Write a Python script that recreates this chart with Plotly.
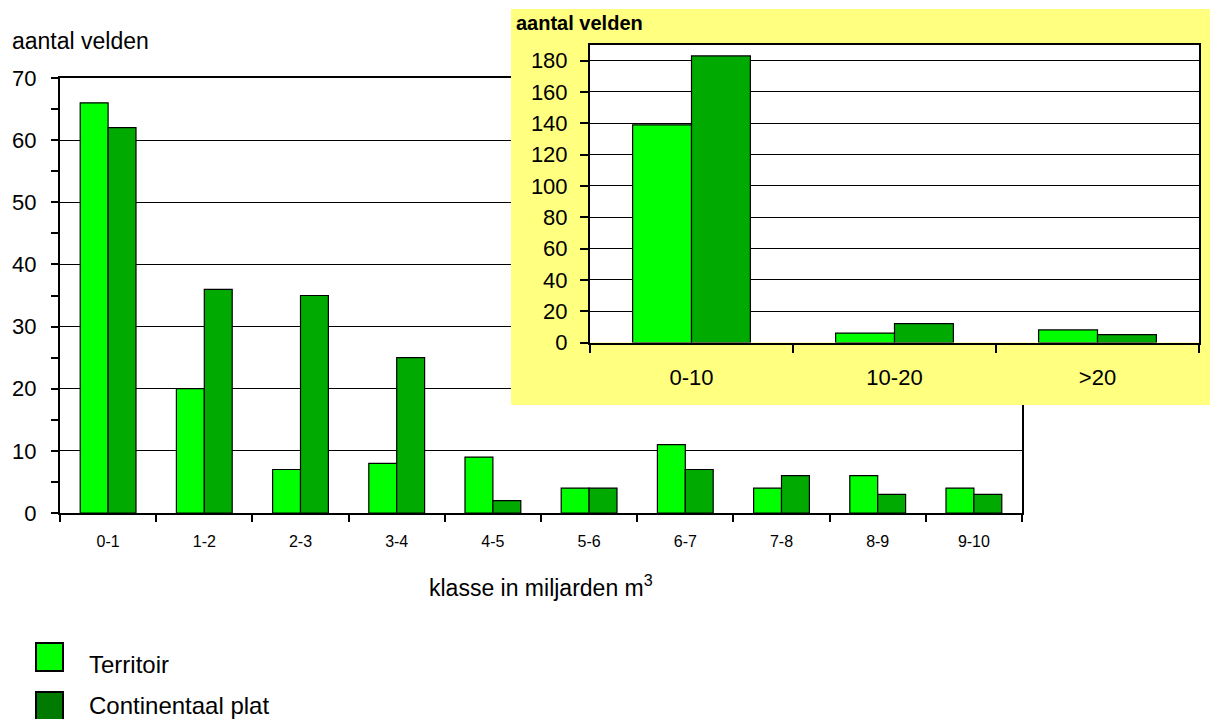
import plotly.graph_objects as go

# Aantal gasvelden per klasse (miljarden m3)
klassen = ["0-1", "1-2", "2-3", "3-4", "4-5", "5-6", "6-7", "7-8", "8-9", "9-10"]
territoir = [66, 20, 7, 8, 9, 4, 11, 4, 6, 4]
continentaal_plat = [62, 36, 35, 25, 2, 4, 7, 6, 3, 3]

# Overzicht in grove klassen
grove_klassen = ["0-10", "10-20", ">20"]
grof_territoir = [139, 6, 8]
grof_continentaal_plat = [183, 12, 5]

W, H = 1210, 719
FONT = "Liberation Sans, Arial, sans-serif"
LICHTGROEN = "#00FF00"
DONKERGROEN = "#00AA00"
LEGENDA_DONKER = "#007A00"
GEEL = "#FFFF80"


def fx(px):
    return px / W


def fy(py):
    return 1 - py / H


fig = go.Figure()

bar_line = dict(color="black", width=1.2)

# hoofdgrafiek
fig.add_trace(go.Bar(x=klassen, y=territoir, name="Territoir",
                     marker=dict(color=LICHTGROEN, line=bar_line),
                     xaxis="x", yaxis="y", showlegend=False))
fig.add_trace(go.Bar(x=klassen, y=continentaal_plat, name="Continentaal plat",
                     marker=dict(color=DONKERGROEN, line=bar_line),
                     xaxis="x", yaxis="y", showlegend=False))

# gele achtergrond van het inzetkader
fig.add_trace(go.Scatter(x=[0, 1, 1, 0, 0], y=[0, 0, 1, 1, 0], mode="lines",
                         fill="toself", fillcolor=GEEL, line=dict(width=0),
                         hoverinfo="skip", xaxis="x2", yaxis="y2", showlegend=False))

# inzetgrafiek
fig.add_trace(go.Bar(x=grove_klassen, y=grof_territoir, name="Territoir",
                     marker=dict(color=LICHTGROEN, line=bar_line),
                     xaxis="x3", yaxis="y3", showlegend=False))
fig.add_trace(go.Bar(x=grove_klassen, y=grof_continentaal_plat, name="Continentaal plat",
                     marker=dict(color=DONKERGROEN, line=bar_line),
                     xaxis="x3", yaxis="y3", showlegend=False))

fig.update_layout(
    width=W, height=H, autosize=False,
    margin=dict(l=0, r=0, t=0, b=0, pad=0),
    paper_bgcolor="white", plot_bgcolor="white",
    font=dict(family=FONT, color="black"),
    barmode="group", bargap=0.42, bargroupgap=0,
    xaxis=dict(domain=[fx(60), fx(1022)], anchor="y", type="category", automargin=False,
               showline=True, linecolor="black", linewidth=2, mirror=True,
               showgrid=False, zeroline=False,
               ticks="outside", tickson="boundaries", ticklen=7, tickcolor="black", tickwidth=1.5,
               tickfont=dict(size=16), ticklabelstandoff=13),
    yaxis=dict(domain=[fy(513), fy(78)], anchor="x", range=[0, 70], dtick=10, automargin=False,
               showline=True, linecolor="black", linewidth=2, mirror=True,
               showgrid=True, gridcolor="black", gridwidth=1, zeroline=False,
               ticks="outside", ticklen=7, tickcolor="black", tickwidth=1.5,
               minor=dict(dtick=5, ticks="outside", ticklen=7, tickcolor="black", showgrid=False),
               tickfont=dict(size=22), ticklabelstandoff=10),
    xaxis2=dict(domain=[fx(511), 1], anchor="y2", range=[0, 1], visible=False,
                fixedrange=True, automargin=False),
    yaxis2=dict(domain=[fy(405), fy(9)], anchor="x2", range=[0, 1], visible=False,
                fixedrange=True, automargin=False),
    xaxis3=dict(domain=[fx(590), fx(1199)], anchor="y3", type="category", automargin=False,
                showline=True, linecolor="black", linewidth=2, mirror=True,
                showgrid=False, zeroline=False,
                ticks="outside", tickson="boundaries", ticklen=8, tickcolor="black", tickwidth=1.5,
                tickfont=dict(size=22), ticklabelstandoff=14),
    yaxis3=dict(domain=[fy(342.5), fy(45)], anchor="x3", range=[0, 190], dtick=20, automargin=False,
                showline=True, linecolor="black", linewidth=2, mirror=True,
                showgrid=True, gridcolor="black", gridwidth=1, zeroline=False,
                ticks="outside", ticklen=8, tickcolor="black", tickwidth=1.5,
                tickfont=dict(size=22), ticklabelstandoff=8),
)

annotations = [
    dict(text="aantal velden", x=fx(10), y=fy(41), xanchor="left", yanchor="middle",
         font=dict(size=23)),
    dict(text="<b>aantal velden</b>", x=fx(514), y=fy(23), xanchor="left", yanchor="middle",
         font=dict(size=20)),
    dict(text="klasse in miljarden m<sup>3</sup>", x=fx(541), y=fy(586), xanchor="center",
         yanchor="middle", font=dict(size=23)),
    dict(text="Territoir", x=fx(87), y=fy(664), xanchor="left", yanchor="middle",
         font=dict(size=24)),
    dict(text="Continentaal plat", x=fx(87), y=fy(705), xanchor="left", yanchor="middle",
         font=dict(size=24)),
]
for a in annotations:
    a.update(xref="paper", yref="paper", showarrow=False)
fig.update_layout(annotations=annotations)

# legendasymbolen
fig.add_shape(type="rect", xref="paper", yref="paper",
              x0=fx(36), x1=fx(63), y0=fy(671), y1=fy(643),
              fillcolor=LICHTGROEN, line=dict(color="black", width=2))
fig.add_shape(type="rect", xref="paper", yref="paper",
              x0=fx(36), x1=fx(63), y0=fy(720), y1=fy(692),
              fillcolor=LEGENDA_DONKER, line=dict(color="black", width=2))

fig.write_html("out.html")
